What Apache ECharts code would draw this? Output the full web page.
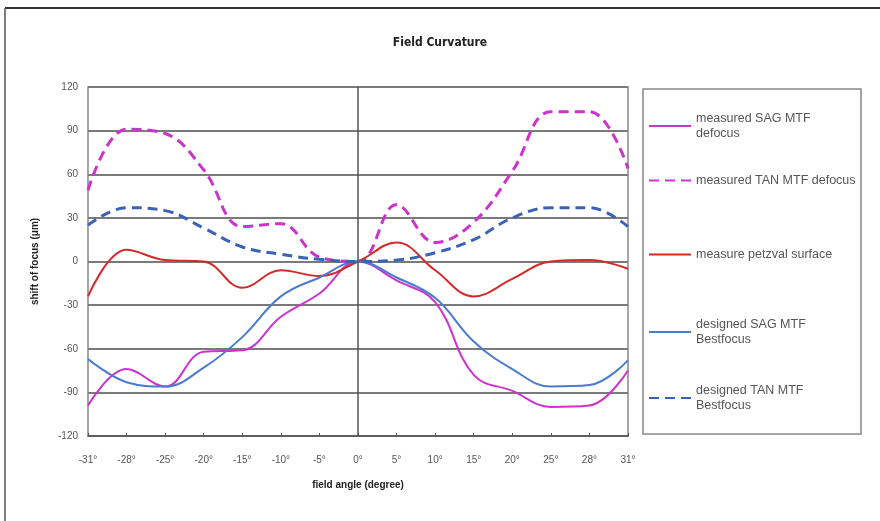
<!DOCTYPE html>
<html>
<head>
<meta charset="utf-8">
<script src="https://cdn.jsdelivr.net/npm/echarts@6/dist/echarts.min.js"></script>
<style>
  html, body { margin: 0; padding: 0; background: #fff; }
  #chart { width: 880px; height: 521px; }
</style>
</head>
<body>
<div id="chart"></div>
<script>
const categories = ['-31°', '-28°', '-25°', '-20°', '-15°', '-10°', '-5°', '0°', '5°', '10°', '15°', '20°', '25°', '28°', '31°'];
const yTicks = [-120, 120, 30]; // min, max, interval

const measuredSag = [-99, -74, -86, -62, -61, -38, -22, 0, -13, -28, -78, -89, -100, -99, -75];
const measuredTan = [49, 91, 88, 63, 24, 26, 3, 0, 39, 13, 27, 62, 103, 103, 64];
const petzval = [-24, 8, 1, 0, -18, -6, -10, 0, 13, -6, -24, -12, 0, 1, -5];
const designedSag = [-67, -83, -86, -73, -52, -24, -11, 0, -11, -25, -55, -74, -86, -85, -68];
const designedTan = [25, 37, 35, 23, 10, 5, 1.5, 0, 1, 6, 15, 30, 37, 37, 24];

const names = [
  'measured SAG MTF\ndefocus',
  'measured TAN MTF defocus',
  'measure petzval surface',
  'designed SAG MTF\nBestfocus',
  'designed TAN MTF\nBestfocus'
];

const font = '"Liberation Sans", Arial, sans-serif';
const chart = echarts.init(document.getElementById('chart'));

const line = (name, data, color, width, dashed) => ({
  name, data, type: 'line', smooth: 0.4, symbol: 'none',
  lineStyle: { color, width, type: dashed ? [10, 6] : 'solid' },
  itemStyle: { color }
});

const legendTops = [111, 173, 247, 317, 383];

chart.setOption({
  animation: false,
  title: {
    text: 'Field Curvature', left: 'center', top: 32,
    textStyle: { fontFamily: '"Liberation Sans Narrow", "DejaVu Sans Condensed", Arial', fontSize: 12, fontWeight: 'bold', color: '#222' }
  },
  legend: names.map((n, i) => ({
    data: [n], orient: 'vertical', left: 648, top: legendTops[i], padding: 0,
    itemWidth: 42, itemHeight: 14, itemGap: 0,
    itemStyle: { opacity: 0 },
    textStyle: { fontFamily: font, fontSize: 12.5, color: '#555', lineHeight: 15 }
  })),
  grid: { left: 88, right: 252, top: 87, bottom: 85, show: true, borderColor: '#888', borderWidth: 1.5 },
  xAxis: [{
    type: 'category', data: categories, boundaryGap: false,
    axisLine: { show: false }, axisTick: { show: false },
    axisLabel: { color: '#555', fontFamily: font, fontSize: 10, margin: 19 },
    name: 'field angle (degree)', nameLocation: 'middle', nameGap: 44,
    nameTextStyle: { fontFamily: font, fontSize: 10, fontWeight: 'bold', color: '#222' }
  }, {
    type: 'category', data: categories, boundaryGap: false, position: 'bottom',
    axisLine: { show: true, onZero: true, lineStyle: { color: '#555', width: 1.5 } },
    axisTick: { show: true, inside: true, length: 3, lineStyle: { color: '#555' } },
    axisLabel: { show: false }
  }],
  yAxis: {
    type: 'value', min: yTicks[0], max: yTicks[1], interval: yTicks[2],
    axisLine: { show: false }, axisTick: { show: false },
    axisLabel: { color: '#555', fontFamily: font, fontSize: 10, margin: 10 },
    splitLine: { lineStyle: { color: '#7a7a7a', width: 2 } },
    name: 'shift of focus (μm)', nameLocation: 'middle', nameGap: 48, nameRotate: 90,
    nameTextStyle: { fontFamily: font, fontSize: 10, fontWeight: 'bold', color: '#222' }
  },
  graphic: [
    { type: 'line', shape: { x1: 5, y1: 8, x2: 880, y2: 8 }, style: { stroke: '#333', lineWidth: 2 } },
    { type: 'line', shape: { x1: 5, y1: 8, x2: 5, y2: 521 }, style: { stroke: '#555', lineWidth: 1.5 } },
    { type: 'rect', shape: { x: 643, y: 89, width: 218, height: 345 }, style: { fill: 'none', stroke: '#888', lineWidth: 1.5 }, z: -1 }
  ],
  series: [
    Object.assign(line(names[0], measuredSag, '#cc33cc', 2, false), {
      markLine: {
        silent: true, symbol: 'none', label: { show: false },
        lineStyle: { color: '#555', type: 'solid', width: 1.5 },
        data: [{ xAxis: '0°' }]
      }
    }),
    line(names[1], measuredTan, '#cc33cc', 3, true),
    line(names[2], petzval, '#d42a2a', 2, false),
    line(names[3], designedSag, '#4a7bd0', 2, false),
    line(names[4], designedTan, '#3a63b8', 3, true)
  ]
});
</script>
</body>
</html>
